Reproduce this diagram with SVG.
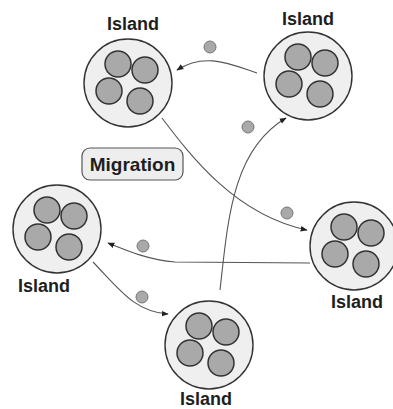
<svg xmlns="http://www.w3.org/2000/svg" xmlns:xlink="http://www.w3.org/1999/xlink" width="393" height="409" viewBox="0 0 393 409">
<style>
.outer{fill:#efefef;stroke:#333;stroke-width:1.4}
.inner{fill:#a9a9a9;stroke:#333;stroke-width:1.5}
.lbl{font-family:"Liberation Sans",Arial,sans-serif;font-size:18px;font-weight:bold;fill:#1e1e1e;text-anchor:middle}
.conn{fill:none;stroke:#555;stroke-width:1.1;marker-end:url(#ah)}
.dot{fill:#a9a9a9;stroke:#777;stroke-width:1}
</style>
<defs>
<marker id="ah" viewBox="0 0 10 10" refX="9" refY="5" markerWidth="7" markerHeight="7" markerUnits="userSpaceOnUse" orient="auto">
<path d="M0,1 L10,5 L0,9 Z" fill="#222"/>
</marker>
<g id="isl">
<circle class="outer" cx="0" cy="0" r="44"/>
<circle class="inner" cx="-10" cy="-19" r="13"/>
<circle class="inner" cx="17" cy="-13" r="13"/>
<circle class="inner" cx="-19" cy="8" r="13"/>
<circle class="inner" cx="12" cy="18" r="13"/>
</g>
</defs>
<rect width="393" height="409" fill="#fff"/>
<g id="connectors">
<path class="conn" d="M257 73 C230 64 205 52 177 70"/>
<path class="conn" d="M220 290 C228 220 232 150 286 118"/>
<path class="conn" d="M162 118 C190 155 235 215 307 230"/>
<path class="conn" d="M310 263 L175 262 C150 260 130 252 108 243"/>
<path class="conn" d="M93 262 C120 290 135 312 168 314"/>
<circle class="dot" cx="210" cy="47" r="6"/>
<circle class="dot" cx="248" cy="127" r="6"/>
<circle class="dot" cx="287" cy="213" r="6"/>
<circle class="dot" cx="143" cy="246" r="6"/>
<circle class="dot" cx="142" cy="297" r="6"/>
</g>
<g id="island-top-left">
<use xlink:href="#isl" x="128" y="83"/>
<text class="lbl" x="133" y="30">Island</text>
</g>
<g id="island-top-right">
<use xlink:href="#isl" x="308" y="76"/>
<text class="lbl" x="308" y="25">Island</text>
</g>
<g id="island-left">
<use xlink:href="#isl" x="57" y="229"/>
<text class="lbl" x="44" y="292">Island</text>
</g>
<g id="island-right">
<use xlink:href="#isl" x="354" y="246"/>
<text class="lbl" x="357" y="308">Island</text>
</g>
<g id="island-bottom">
<use xlink:href="#isl" x="209" y="345"/>
<text class="lbl" x="206" y="405">Island</text>
</g>
<g id="migration">
<rect x="82" y="148" width="101" height="32" rx="8" fill="#eee" stroke="#555" stroke-width="1.2"/>
<text class="lbl" x="132.5" y="171" style="font-size:19px">Migration</text>
</g>
</svg>
